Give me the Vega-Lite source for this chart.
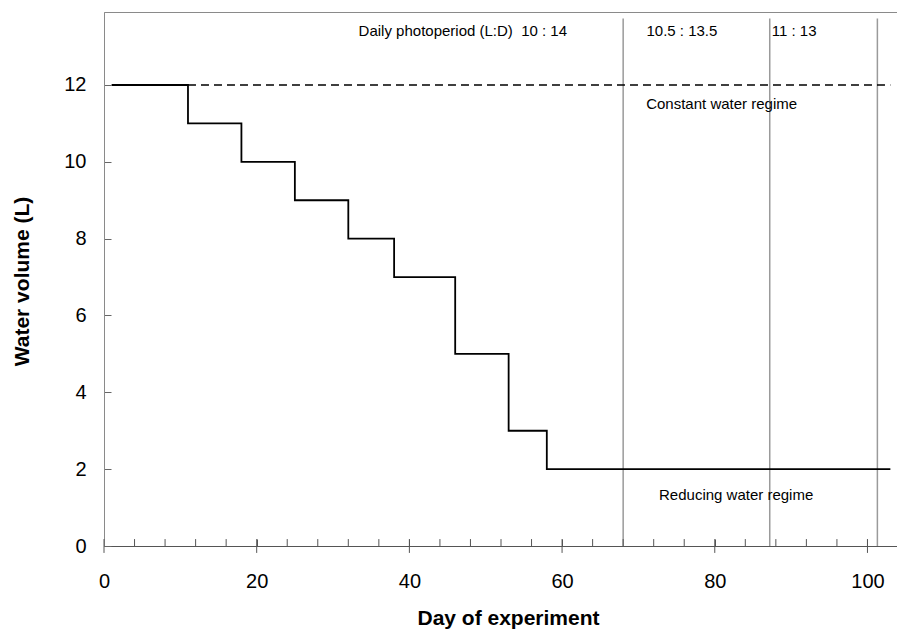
{
  "$schema": "https://vega.github.io/schema/vega-lite/v6.json",
  "autosize": {"type": "none"},
  "padding": {"left": 104, "top": 12, "right": 0, "bottom": 85},
  "width": 794,
  "height": 534,
  "background": "white",
  "config": {
    "view": {"stroke": "#8a8a8a", "strokeWidth": 1},
    "font": "Liberation Sans",
    "axis": {"labelFont": "Liberation Sans", "titleFont": "Liberation Sans", "labelColor": "black", "titleColor": "black", "grid": false}
  },
  "datasets": {
    "reducing": [
      {"day": 1, "volume": 12},
      {"day": 11, "volume": 11},
      {"day": 18, "volume": 10},
      {"day": 25, "volume": 9},
      {"day": 32, "volume": 8},
      {"day": 38, "volume": 7},
      {"day": 46, "volume": 5},
      {"day": 53, "volume": 3},
      {"day": 58, "volume": 2},
      {"day": 103, "volume": 2}
    ],
    "constant": [
      {"day": 11, "volume": 12},
      {"day": 103, "volume": 12}
    ],
    "periods": [
      {"day": 68.0},
      {"day": 87.2},
      {"day": 101.3}
    ],
    "ticks": [
      {"day": 0}, {"day": 4}, {"day": 8}, {"day": 12}, {"day": 16}, {"day": 20},
      {"day": 24}, {"day": 28}, {"day": 32}, {"day": 36}, {"day": 40}, {"day": 44},
      {"day": 48}, {"day": 52}, {"day": 56}, {"day": 60}, {"day": 64}, {"day": 68},
      {"day": 72}, {"day": 76}, {"day": 80}, {"day": 84}, {"day": 88}, {"day": 92},
      {"day": 96}, {"day": 100}
    ],
    "majors": [
      {"day": 0}, {"day": 20}, {"day": 40}, {"day": 60}, {"day": 80}, {"day": 100}
    ],
    "labels": [
      {"day": 47.0, "volume": 13.4, "text": "Daily photoperiod (L:D)\u00a0\u00a010 : 14"},
      {"day": 75.7, "volume": 13.4, "text": "10.5 : 13.5"},
      {"day": 90.4, "volume": 13.4, "text": "11 : 13"},
      {"day": 80.9, "volume": 11.5, "text": "Constant water regime"},
      {"day": 82.8, "volume": 1.32, "text": "Reducing water regime"}
    ]
  },
  "layer": [
    {
      "data": {"name": "periods"},
      "mark": {"type": "rule", "color": "#9a9a9a", "strokeWidth": 1.5},
      "encoding": {
        "x": {"field": "day", "type": "quantitative", "scale": {"domain": [0, 104], "nice": false, "zero": false},
          "axis": {
            "values": [0, 20, 40, 60, 80, 100],
            "tickSize": -7,
            "tickColor": "#555",
            "tickWidth": 1,
            "labelPadding": 32,
            "labelFontSize": 20,
            "labelFlush": false,
            "labelOverlap": false,
            "domainColor": "#555",
            "domainWidth": 1,
            "title": "Day of experiment",
            "titleFontSize": 21,
            "titleFontWeight": "bold",
            "titleX": 404,
            "titleY": 72,
            "titleBaseline": "middle",
            "titleAlign": "center"
          }
        },
        "y": {"datum": 0, "type": "quantitative", "scale": {"domain": [0, 13.9], "nice": false, "zero": false},
          "axis": {
            "values": [0, 2, 4, 6, 8, 10, 12],
            "tickSize": -7,
            "tickColor": "#666",
            "labelPadding": 25,
            "labelFontSize": 20,
            "labelFlush": false,
            "domainColor": "#8a8a8a",
            "title": "Water volume (L)",
            "titleFontSize": 21,
            "titleFontWeight": "bold",
            "titleX": -82,
            "titleY": 269,
            "titleAngle": -90,
            "titleBaseline": "middle",
            "titleAlign": "center"
          }
        },
        "y2": {"datum": 13.73}
      }
    },
    {
      "data": {"name": "ticks"},
      "mark": {"type": "rule", "color": "#555", "strokeWidth": 1},
      "encoding": {
        "x": {"field": "day", "type": "quantitative"},
        "y": {"datum": 0},
        "y2": {"datum": 0.18}
      }
    },
    {
      "data": {"name": "majors"},
      "mark": {"type": "rule", "color": "#555", "strokeWidth": 1},
      "encoding": {
        "x": {"field": "day", "type": "quantitative"},
        "y": {"datum": 0},
        "y2": {"datum": -0.18}
      }
    },
    {
      "data": {"name": "constant"},
      "mark": {"type": "line", "color": "black", "strokeWidth": 1.6, "strokeDash": [8, 5]},
      "encoding": {
        "x": {"field": "day", "type": "quantitative"},
        "y": {"field": "volume", "type": "quantitative"}
      }
    },
    {
      "data": {"name": "reducing"},
      "mark": {"type": "line", "color": "black", "strokeWidth": 1.8, "interpolate": "step-after"},
      "encoding": {
        "x": {"field": "day", "type": "quantitative"},
        "y": {"field": "volume", "type": "quantitative"}
      }
    },
    {
      "data": {"name": "labels"},
      "mark": {"type": "text", "font": "Liberation Sans", "fontSize": 15, "color": "black", "align": "center", "baseline": "middle"},
      "encoding": {
        "x": {"field": "day", "type": "quantitative"},
        "y": {"field": "volume", "type": "quantitative"},
        "text": {"field": "text"}
      }
    }
  ]
}
